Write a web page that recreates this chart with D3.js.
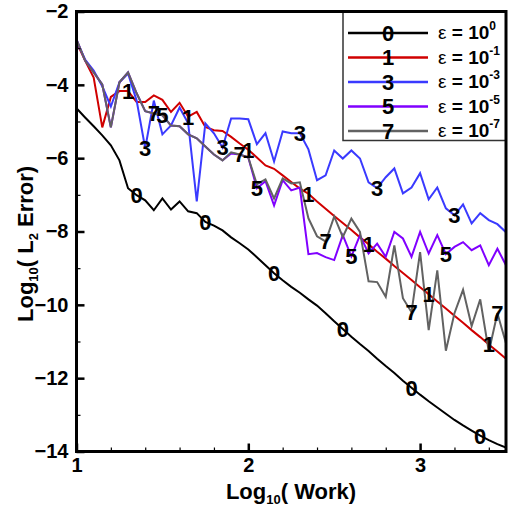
<!DOCTYPE html>
<html><head><meta charset="utf-8">
<script src="https://cdn.jsdelivr.net/npm/d3@7"></script>
<style>body{margin:0;background:#fff;overflow:hidden}</style>
</head><body>
<svg id="c" width="508" height="508"></svg>
<script>
const work = [1.00,1.05,1.10,1.15,1.20,1.25,1.30,1.35,1.40,1.45,1.50,1.55,1.60,1.65,1.70,1.75,1.80,1.85,1.90,1.95,2.00,2.05,2.10,2.15,2.20,2.25,2.30,2.35,2.40,2.45,2.50,2.55,2.60,2.65,2.70,2.75,2.80,2.85,2.90,2.95,3.00,3.05,3.10,3.15,3.20,3.25,3.30,3.35,3.40,3.45,3.50];
const err0 = [-4.64,-4.89,-5.13,-5.38,-5.65,-6.06,-6.82,-7.01,-7.15,-7.42,-7.10,-7.40,-7.18,-7.45,-7.50,-7.74,-7.84,-7.97,-8.16,-8.32,-8.49,-8.70,-8.92,-9.14,-9.33,-9.51,-9.67,-9.85,-10.02,-10.23,-10.45,-10.66,-10.87,-11.07,-11.26,-11.47,-11.67,-11.86,-12.07,-12.26,-12.45,-12.63,-12.80,-12.97,-13.14,-13.29,-13.43,-13.57,-13.69,-13.80,-13.89];
const err1 = [-2.84,-3.34,-3.80,-5.16,-4.33,-4.17,-4.17,-4.47,-4.47,-4.29,-4.41,-4.74,-4.49,-4.87,-4.74,-5.15,-5.24,-5.26,-5.42,-5.60,-5.77,-5.98,-6.20,-6.29,-6.47,-6.65,-6.83,-6.97,-7.18,-7.38,-7.58,-7.77,-7.96,-8.16,-8.35,-8.55,-8.74,-8.94,-9.13,-9.32,-9.52,-9.71,-9.91,-10.10,-10.30,-10.49,-10.69,-10.88,-11.08,-11.27,-11.47];
const err3 = [-2.79,-3.31,-3.61,-4.04,-4.59,-3.93,-3.69,-4.43,-5.73,-4.43,-5.35,-5.11,-4.62,-5.05,-7.18,-5.05,-5.32,-5.71,-4.92,-4.92,-4.94,-5.62,-5.32,-6.09,-5.27,-5.32,-5.32,-5.76,-6.60,-6.47,-5.79,-6.01,-5.79,-6.01,-6.66,-6.82,-6.52,-6.28,-6.96,-6.80,-6.41,-7.12,-6.80,-7.37,-7.56,-7.26,-7.78,-7.50,-7.69,-7.80,-8.02];
const err5 = [-2.76,-3.34,-3.66,-3.99,-5.16,-3.93,-3.66,-4.23,-4.72,-4.78,-4.83,-5.11,-5.13,-5.35,-5.46,-5.68,-5.90,-6.06,-5.87,-5.90,-5.98,-6.82,-6.63,-7.29,-6.60,-6.88,-6.80,-8.62,-8.59,-8.70,-8.78,-8.10,-8.68,-8.10,-8.60,-8.33,-8.69,-8.01,-8.19,-8.69,-8.01,-8.60,-8.10,-8.62,-8.42,-8.29,-8.51,-8.38,-8.92,-8.47,-8.92];
const err7 = [-2.76,-3.34,-3.66,-3.99,-5.16,-3.93,-3.66,-4.23,-4.72,-4.78,-4.83,-5.11,-5.13,-5.35,-5.46,-5.68,-5.90,-6.06,-5.84,-5.90,-5.98,-6.71,-6.58,-7.10,-6.55,-6.69,-6.66,-7.64,-8.13,-8.27,-7.59,-8.15,-7.65,-8.01,-9.36,-9.38,-9.78,-8.38,-9.82,-10.20,-8.56,-10.69,-9.06,-11.25,-10.23,-9.59,-10.58,-9.85,-11.28,-10.23,-11.05];
const seriesLabels = ["0","1","3","5","7"];
const exponents = ["0","-1","-3","-5","-7"];
const labelIdx = [[7,15,23,31,39,47],[6,13,20,27,34,41,48],[8,17,26,35,44],[10,21,32,43],[9,19,29,39,49]];
const xMajor = [1,2,3];
const xMinor = [1.2,1.4,1.6,1.8,2.2,2.4,2.6,2.8,3.2,3.4];
const yMajor = [-14,-12,-10,-8,-6,-4,-2];
const yMinor = [-13,-11,-9,-7,-5,-3];

const colors = ["#000000","#d00000","#3a3aff","#8000ff","#626262"];
const seriesData = [err0, err1, err3, err5, err7];

const svg = d3.select("#c");
const L = 76.5, R = 506, T = 11.5, B = 451.5;
const x = d3.scaleLinear().domain([1,3.5]).range([L,R]);
const y = d3.scaleLinear().domain([-14,-2]).range([B,T]);
const FONT = "'Liberation Sans', Arial, Helvetica, sans-serif";

svg.append("defs").append("clipPath").attr("id","clip")
  .append("rect").attr("x",L).attr("y",T).attr("width",R-L).attr("height",B-T);

const line = d3.line().x((d,i)=>x(work[i])).y(d=>y(d));
const g = svg.append("g").attr("clip-path","url(#clip)");
seriesData.forEach((s,k)=>{
  g.append("path").attr("d",line(s)).attr("fill","none")
   .attr("stroke",colors[k]).attr("stroke-width",2).attr("stroke-linejoin","miter");
});
// line labels
seriesData.forEach((s,k)=>{
  labelIdx[k].forEach(i=>{
    svg.append("text").attr("x",x(work[i])).attr("y",y(s[i]))
      .attr("text-anchor","middle").attr("dy","0.36em")
      .attr("font-family",FONT).attr("font-weight","bold").attr("font-size",22)
      .attr("fill","#000").text(seriesLabels[k]);
  });
});

// axes
function styleAxis(sel){
  sel.select(".domain").remove();
  sel.selectAll("text").attr("font-family",FONT).attr("font-weight","bold").attr("font-size",20).attr("fill","#000");
  sel.selectAll("line").attr("stroke","#000");
}
const xa = svg.append("g").attr("transform",`translate(0,${B})`)
  .call(d3.axisBottom(x).tickValues(xMajor).tickFormat(d3.format("d")).tickSize(-8).tickPadding(6));
styleAxis(xa); xa.selectAll("line").attr("stroke-width",2.5);
const xm = svg.append("g").attr("transform",`translate(0,${B})`)
  .call(d3.axisBottom(x).tickValues(xMinor).tickFormat("").tickSize(-4));
styleAxis(xm); xm.selectAll("line").attr("stroke-width",1.2);
const ya = svg.append("g").attr("transform",`translate(${L},0)`)
  .call(d3.axisLeft(y).tickValues(yMajor).tickFormat(d3.format("d")).tickSize(-8).tickPadding(8));
styleAxis(ya); ya.selectAll("line").attr("stroke-width",2.5);
const ym = svg.append("g").attr("transform",`translate(${L},0)`)
  .call(d3.axisLeft(y).tickValues(yMinor).tickFormat("").tickSize(-4));
styleAxis(ym); ym.selectAll("line").attr("stroke-width",1.2);

// axis titles
const xt = svg.append("text").attr("x",291).attr("y",499).attr("text-anchor","middle")
  .attr("font-family",FONT).attr("font-weight","bold").attr("font-size",22);
xt.append("tspan").text("Log");
xt.append("tspan").attr("font-size",13).attr("dy",5).text("10");
xt.append("tspan").attr("dy",-5).text("( Work)");

const yt = svg.append("text").attr("transform","translate(33,219) rotate(-90)")
  .attr("font-family",FONT).attr("font-weight","bold").attr("font-size",22);
yt.append("tspan").attr("x",-103).text("Log");
yt.append("tspan").attr("font-size",13).attr("dy",5).text("10");
yt.append("tspan").attr("dy",-5).text("( L");
yt.append("tspan").attr("font-size",13).attr("dy",5).text("2");
yt.append("tspan").attr("dy",-5).text(" Error)");

// legend
const lg = svg.append("g");
lg.append("rect").attr("x",343).attr("y",T).attr("width",R-343).attr("height",129)
  .attr("fill","#fff").attr("stroke","#333").attr("stroke-width",1.5);
const rowY = d3.scaleLinear().domain([0,4]).range([33,131]);
seriesLabels.forEach((lab,k)=>{
  const yy = rowY(k);
  lg.append("line").attr("x1",348).attr("x2",428).attr("y1",yy).attr("y2",yy)
    .attr("stroke",colors[k]).attr("stroke-width",2.5);
  lg.append("text").attr("x",388).attr("y",yy).attr("dy","0.36em").attr("text-anchor","middle")
    .attr("font-family",FONT).attr("font-weight","bold").attr("font-size",22).text(lab);
  const t = lg.append("text").attr("x",438).attr("y",yy+6)
    .attr("font-family",FONT).attr("font-size",19).attr("font-weight","bold");
  t.append("tspan").attr("font-weight","normal").text("ε");
  t.append("tspan").text(" = 10");
  t.append("tspan").attr("font-size",12).attr("dy",-9).text(exponents[k]);
});

// frame
svg.append("rect").attr("x",L).attr("y",T).attr("width",R-L).attr("height",B-T)
  .attr("fill","none").attr("stroke","#000").attr("stroke-width",3);
</script>
</body></html>
